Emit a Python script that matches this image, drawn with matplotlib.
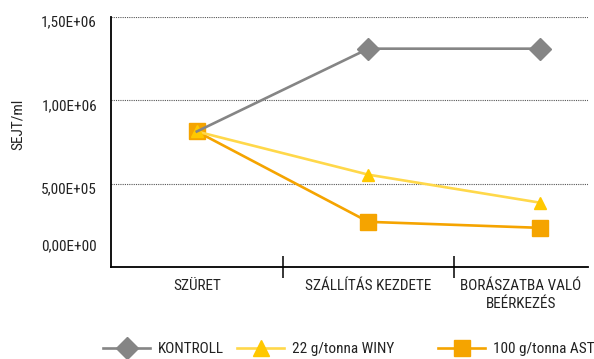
import matplotlib.pyplot as plt
from matplotlib.lines import Line2D
from matplotlib.transforms import ScaledTranslation

plt.rcParams['font.family'] = ['Roboto Condensed', 'DejaVu Sans']
plt.rcParams['font.size'] = 11
plt.rcParams['text.color'] = '#222222'
plt.rcParams['xtick.labelcolor'] = '#222222'
plt.rcParams['ytick.labelcolor'] = '#222222'

# sejtszám (SEJT/ml) a három mintavételi pontban
stages = ["SZÜRET", "SZÁLLÍTÁS KEZDETE", "BORÁSZATBA VALÓ\nBEÉRKEZÉS"]
kontroll = [8.13e5, 1.31e6, 1.31e6]
winy = [8.13e5, 5.54e5, 3.86e5]
ast = [8.13e5, 2.71e5, 2.35e5]

y_ticks = [0, 5e5, 1e6, 1.5e6]
y_labels = ["0,00E+00", "5,00E+05", "1,00E+06", "1,50E+06"]

c_gray = "#858585"
c_yellow_line = "#FFD84A"
c_yellow = "#FFC800"
c_orange = "#F5A400"

fig = plt.figure(figsize=(5.94, 3.59), dpi=100)
W, H = 594, 359
ax = fig.add_axes([111 / W, 1 - 267 / H, (588 - 111) / W, (267 - 17) / H])

x = list(range(len(stages)))
ax.plot(x, ast, color=c_orange, lw=1.9, marker="s", ms=12.2,
        mec=c_orange, mfc=c_orange, zorder=3)
ax.plot(x, winy, color=c_yellow_line, lw=1.9, marker="^", ms=8.5,
        mec=c_yellow, mfc=c_yellow, zorder=4)
ax.plot(x, kontroll, color=c_gray, lw=1.9, marker="D", ms=11,
        mec=c_gray, mfc=c_gray, markevery=[1, 2], zorder=5)

xmax = 2.28
ax.set_xlim(-0.5, xmax)
ax.set_ylim(0, 1.5e6)

ax.set_yticks(y_ticks, y_labels)
ax.yaxis.grid(True, linestyle=(0, (1, 1)), color="#555555", lw=0.8)
ax.tick_params(axis="y", length=0, pad=10)
for i, lab in enumerate(ax.get_yticklabels()):
    dy = -4 if i > 0 else 22
    lab.set_transform(lab.get_transform() +
                      ScaledTranslation(0, dy / 100, fig.dpi_scale_trans))

label_pos = [0, 1, (1.5 + xmax) / 2]
ax.set_xticks(label_pos, stages, linespacing=1.3)
ax.set_xticks([0.5, 1.5], minor=True)
ax.tick_params(axis="x", which="major", length=0, pad=9)
ax.tick_params(axis="x", which="minor", direction="inout", length=16,
               width=1.1, color="black")

for side in ["top", "right"]:
    ax.spines[side].set_visible(False)
for side in ["left", "bottom"]:
    ax.spines[side].set_linewidth(1.3)
    ax.spines[side].set_color("black")

fig.text(18 / W, 1 - 124 / H, "SEJT/ml", rotation=90, ha="center", va="center")

# legend entries below the plot
handles = [
    Line2D([], [], color=c_gray, lw=1.9, marker="D", ms=11,
           mec=c_gray, mfc=c_gray, label="KONTROLL"),
    Line2D([], [], color=c_yellow_line, lw=1.9, marker="^", ms=11,
           mec=c_yellow, mfc=c_yellow, label="22 g/tonna WINY"),
    Line2D([], [], color=c_orange, lw=1.9, marker="s", ms=12.2,
           mec=c_orange, mfc=c_orange, label="100 g/tonna AST"),
]
legend_x = [103, 237, 438]
for h, lx in zip(handles, legend_x):
    fig.legend(handles=[h], loc="center left",
               bbox_to_anchor=(lx / W, 1 - 349 / H),
               frameon=False, borderpad=0, borderaxespad=0,
               handlelength=3.1, handletextpad=0.5, numpoints=1)

fig.savefig("out.png", dpi=100)
